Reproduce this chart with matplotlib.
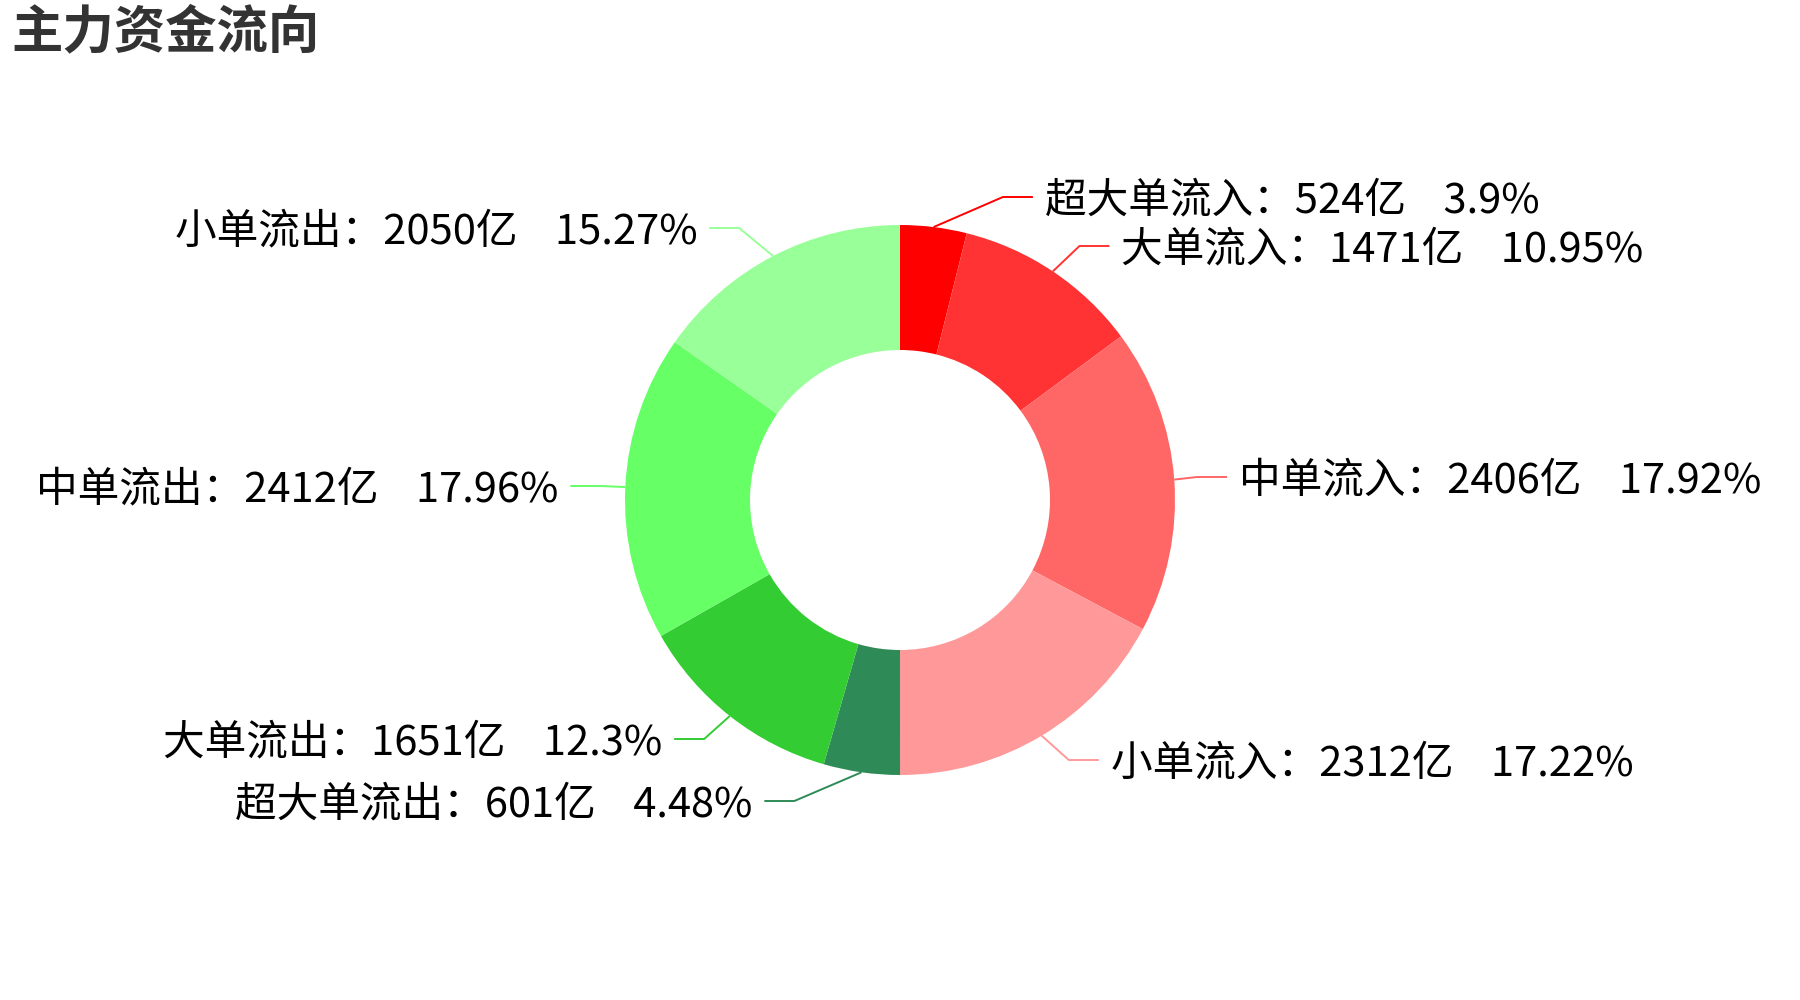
import numpy as np
import matplotlib
matplotlib.use("Agg")
import matplotlib.pyplot as plt

plt.rcParams['font.family'] = ['Noto Sans CJK SC', 'DejaVu Sans']

# data (clockwise from 12 o'clock)
names = ['超大单流入', '大单流入', '中单流入', '小单流入',
         '超大单流出', '大单流出', '中单流出', '小单流出']
values = [524, 1471, 2406, 2312, 601, 1651, 2412, 2050]
pcts = ['3.9', '10.95', '17.92', '17.22', '4.48', '12.3', '17.96', '15.27']
colors = ['#FF0000', '#FF3333', '#FF6666', '#FF9999',
          '#2E8B57', '#33CC33', '#66FF66', '#99FF99']

# layout, in pixels (y measured downward from the top)
W, H = 1800, 1000
CX, CY = 900, 500
R, R_IN = 275, 150
label_dy = [-303, -254, -23, 260, 301, 239, -14, -272]   # elbow height vs centre
label_rb = [320, 311, 298, 310, 319, 309, 300, 316]      # elbow distance
len2 = 30
gap = 12

fig = plt.figure(figsize=(W / 100, H / 100), dpi=100)
ax = fig.add_axes([0, 0, 1, 1])
ax.pie(values, colors=colors, startangle=90, counterclock=False,
       radius=R, center=(CX, H - CY),
       wedgeprops=dict(width=R - R_IN, linewidth=0))
ax.set_xlim(0, W)
ax.set_ylim(0, H)
ax.axis('off')

total = float(sum(values))
cum = 0.0
for name, v, p, c, dy, rb in zip(names, values, pcts, colors, label_dy, label_rb):
    theta = np.deg2rad((cum + v / 2) / total * 360)
    cum += v
    ex, ey = CX + R * np.sin(theta), CY - R * np.cos(theta)
    side = 1 if np.sin(theta) > 0 else -1
    bx = CX + side * np.sqrt(rb ** 2 - dy ** 2)
    by = CY + dy
    tx = bx + side * len2
    ax.plot([ex, bx, tx], [H - ey, H - by, H - by], color=c, lw=1.4,
            solid_capstyle='butt')
    ax.text(tx + side * gap, H - by - 4, f'{name}：{v}亿    {p}%',
            ha='left' if side > 0 else 'right', va='center',
            fontsize=30, color='black')

fig.text(11 / W, 1 - 32 / H, '主力资金流向', fontsize=37, fontweight='bold',
         color='#333333', ha='left', va='center')

fig.savefig('out.png', dpi=100, facecolor='white')
